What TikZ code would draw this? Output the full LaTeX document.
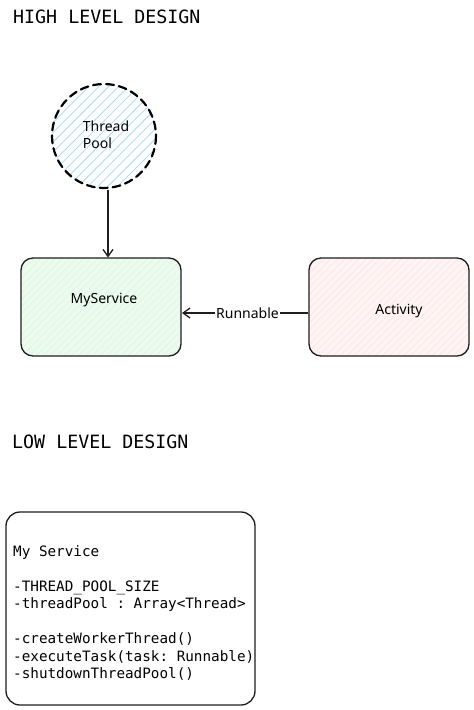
\documentclass[tikz,border=0pt]{standalone}
\usepackage{fontspec}
\setmainfont{Noto Sans}
\setmonofont{DejaVu Sans Mono}
\usetikzlibrary{arrows.meta,patterns.meta}
\definecolor{hatchblue}{HTML}{A5D8FF}
\definecolor{fillgreen}{HTML}{EBFBEE}
\definecolor{hatchgreen}{HTML}{DDF3E2}
\definecolor{fillpink}{HTML}{FFF3F3}
\definecolor{hatchpink}{HTML}{F9E4E4}
\definecolor{strokegray}{HTML}{1E1E1E}
\tikzset{
  heading/.style={anchor=base west, inner sep=0, font=\ttfamily\fontsize{18.3}{22}\selectfont},
  hand/.style={font=\fontsize{14}{17}\selectfont, text=black},
  box/.style={draw=strokegray, line width=1.3pt, rounded corners=12pt},
  umlline/.style={anchor=base west, inner sep=0, font=\ttfamily\fontsize{14.3}{17.5}\selectfont},
  conn/.style={draw=strokegray, line width=1.3pt, -{Straight Barb[length=7pt,width=10pt]}}
}
\begin{document}
\begin{tikzpicture}[x=1pt,y=-1pt]
\useasboundingbox (0,0) rectangle (474,710);
\fill[white] (0,0) rectangle (474,710);

\node[heading] (hld) at (13,23) {HIGH LEVEL DESIGN};

% Thread pool circle
\path[preaction={fill=white}, pattern={Lines[angle=45,distance=7pt,line width=0.8pt]}, pattern color=hatchblue]
  (104,136) circle[radius=52];
\draw[line width=2.2pt, dash pattern=on 8pt off 5pt, line cap=round] (104,136) circle[radius=52];
\node[hand, align=left, inner sep=0] (tp) at (106,135) {Thread\\Pool};
\coordinate (tpbot) at (108,190);

% MyService
\path[rounded corners=12pt, preaction={fill=fillgreen}, pattern={Lines[angle=45,distance=5pt,line width=0.5pt]}, pattern color=hatchgreen]
  (21,258) rectangle (181,356);
\node[box, minimum width=160pt, minimum height=98pt] (ms) at (101,307) {};
\node[hand] (mst) at (104,300) {MyService};

% Activity
\path[rounded corners=12pt, preaction={fill=fillpink}, pattern={Lines[angle=45,distance=5pt,line width=0.5pt]}, pattern color=hatchpink]
  (309,258) rectangle (469,356);
\node[box, minimum width=160pt, minimum height=98pt] (act) at (389,307) {};
\node[hand] (actt) at (399,311) {Activity};

\draw[conn] (tpbot) -- (108,257.5);
\coordinate (a1) at (308,313);
\coordinate (a2) at (182,313);
\draw[conn] (a1) -- node[hand, fill=white, inner sep=1pt, pos=0.48] (rl) {Runnable} (a2);

\node[heading] (lld) at (12,448) {LOW LEVEL DESIGN};

% UML box
\draw[box, rounded corners=14pt] (6,512) rectangle (255,705);
\node[umlline] (u1) at (13,556) {My Service};
\node[umlline] (u2) at (13,591) {-THREAD\_POOL\_SIZE};
\node[umlline] (u3) at (13,608.5) {-threadPool : Array<Thread>};
\node[umlline] (u4) at (13,643.5) {-createWorkerThread()};
\node[umlline] (u5) at (13,661) {-executeTask(task: Runnable)};
\node[umlline] (u6) at (13,678.5) {-shutdownThreadPool()};
\end{tikzpicture}
\end{document}
